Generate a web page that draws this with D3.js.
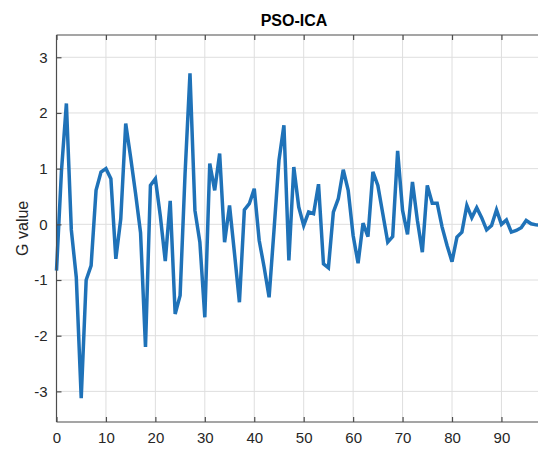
<!DOCTYPE html>
<html>
<head>
<meta charset="utf-8">
<script src="https://cdn.jsdelivr.net/npm/d3@7"></script>
<style>
  body { margin: 0; background: #fff; }
  svg { display: block; font-family: "Liberation Sans", Arial, sans-serif; }
</style>
</head>
<body>
<div id="chart"></div>
<script>
// G value per iteration
const gValues = [
  -0.83, 0.95, 2.17, -0.1, -0.95, -3.12, -1.0, -0.74, 0.61, 0.94,
  1.0, 0.82, -0.62, 0.1, 1.81, 1.2, 0.55, -0.15, -2.2, 0.7,
  0.82, 0.15, -0.66, 0.42, -1.61, -1.28, 0.9, 2.71, 0.25, -0.32,
  -1.67, 1.09, 0.61, 1.27, -0.32, 0.34, -0.52, -1.4, 0.26, 0.37,
  0.64, -0.29, -0.77, -1.31, -0.1, 1.15, 1.78, -0.65, 1.03, 0.31,
  -0.02, 0.22, 0.19, 0.72, -0.71, -0.78, 0.22, 0.46, 0.98, 0.61,
  -0.2, -0.7, 0.02, -0.22, 0.94, 0.7, 0.19, -0.32, -0.22, 1.32,
  0.25, -0.18, 0.76, 0.07, -0.5, 0.7, 0.38, 0.38, -0.05, -0.38,
  -0.67, -0.23, -0.14, 0.34, 0.12, 0.3, 0.12, -0.1, -0.02, 0.26,
  0.0, 0.08, -0.14, -0.11, -0.06, 0.07, 0.01, -0.01, -0.02
];
const xTicks = [0, 10, 20, 30, 40, 50, 60, 70, 80, 90];
const yTicks = [-3, -2, -1, 0, 1, 2, 3];
const chartTitle = "PSO-ICA";
const yLabel = "G value";

const W = 538, H = 449;
const margin = { top: 35, right: -3, bottom: 27, left: 56.5 };
const innerW = W - margin.left - margin.right;
const innerH = H - margin.top - margin.bottom;

const svg = d3.select("#chart")
  .append("svg")
  .attr("width", W)
  .attr("height", H);

const g = svg.append("g")
  .attr("transform", `translate(${margin.left},${margin.top})`);

const x = d3.scaleLinear().domain([0, 98]).range([0, innerW]);
const y = d3.scaleLinear().domain([-3.55, 3.4]).range([innerH, 0]);

// grid
g.append("g")
  .selectAll("line")
  .data(xTicks)
  .join("line")
  .attr("x1", d => x(d)).attr("x2", d => x(d))
  .attr("y1", 0).attr("y2", innerH)
  .attr("stroke", "#dedede").attr("stroke-width", 1);

g.append("g")
  .selectAll("line")
  .data(yTicks)
  .join("line")
  .attr("x1", 0).attr("x2", innerW)
  .attr("y1", d => y(d)).attr("y2", d => y(d))
  .attr("stroke", "#dedede").attr("stroke-width", 1);

// line
const line = d3.line()
  .x((d, i) => x(i))
  .y(d => y(d));

g.append("path")
  .datum(gValues)
  .attr("fill", "none")
  .attr("stroke", "#1f72b8")
  .attr("stroke-width", 3.5)
  .attr("stroke-linejoin", "miter")
  .attr("stroke-miterlimit", 4)
  .attr("d", line);

// axes (ticks pointing inward, like matlab)
const tickLen = 5;
const axisColor = "#4d4d4d";
const fmt = d => String(d); // plain hyphen minus

const xAxis = g.append("g")
  .attr("transform", `translate(0,${innerH})`)
  .call(d3.axisBottom(x).tickValues(xTicks).tickSize(-tickLen).tickPadding(10).tickFormat(fmt));

const xTop = g.append("g")
  .call(d3.axisTop(x).tickValues(xTicks).tickSize(-tickLen).tickFormat(""));

const yAxis = g.append("g")
  .call(d3.axisLeft(y).tickValues(yTicks).tickSize(-tickLen).tickPadding(9).tickFormat(fmt));

[xAxis, xTop, yAxis].forEach(a => {
  a.select(".domain").attr("stroke", axisColor).attr("stroke-width", 1.2);
  a.selectAll(".tick line").attr("stroke", axisColor).attr("stroke-width", 1.2);
  a.selectAll(".tick text")
    .attr("fill", "#262626")
    .style("font-size", "15px")
    .style("font-family", "'Liberation Sans', Arial, sans-serif");
});
// remove outer tick stubs past the ends
xAxis.select(".domain").attr("d", `M0,0H${innerW}`);
xTop.select(".domain").attr("d", `M0,0H${innerW}`);
yAxis.select(".domain").attr("d", `M0,0V${innerH}`);

// title
svg.append("text")
  .attr("x", 294)
  .attr("y", 26)
  .attr("text-anchor", "middle")
  .style("font-size", "16px")
  .style("font-weight", "bold")
  .attr("fill", "#000")
  .text(chartTitle);

// y label
svg.append("text")
  .attr("transform", `translate(28,${margin.top + y(0) + 4}) rotate(-90)`)
  .attr("text-anchor", "middle")
  .style("font-size", "16px")
  .attr("fill", "#262626")
  .text(yLabel);
</script>
</body>
</html>
